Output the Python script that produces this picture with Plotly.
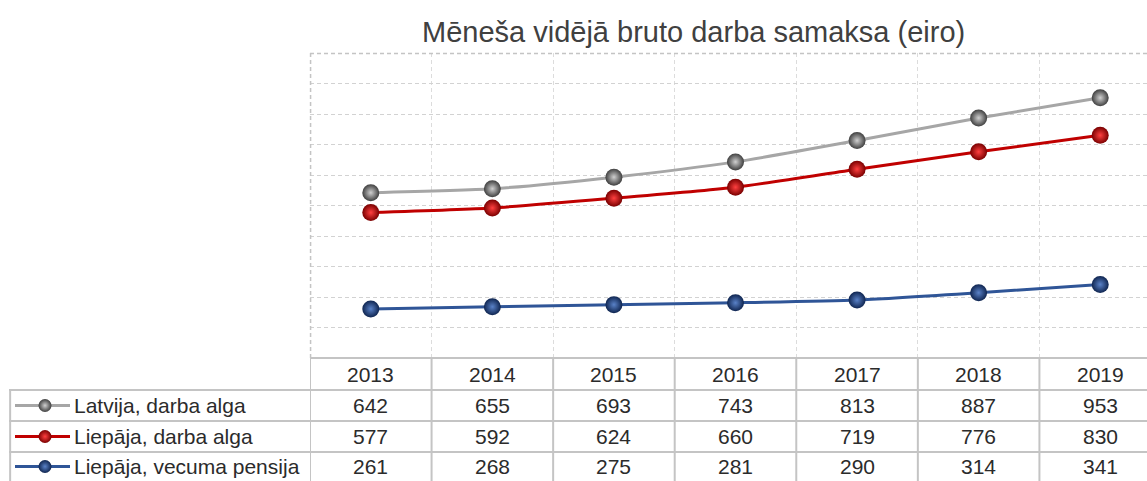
import plotly.graph_objects as go

years = ["2013", "2014", "2015", "2016", "2017", "2018", "2019"]
series_names = ["Latvija, darba alga", "Liepāja, darba alga", "Liepāja, vecuma pensija"]
latvija_alga = [642, 655, 693, 743, 813, 887, 953]
liepaja_alga = [577, 592, 624, 660, 719, 776, 830]
liepaja_pensija = [261, 268, 275, 281, 290, 314, 341]
title_text = "Mēneša vidējā bruto darba samaksa (eiro)"

series_values = [latvija_alga, liepaja_alga, liepaja_pensija]
line_colors = ["#a6a6a6", "#c00000", "#2f5597"]
edge_colors = ["#3f3f3f", "#7a0000", "#0f2550"]
center_colors = ["#d0d0d0", "#ff4040", "#5a82c8"]

W, H = 1147, 481
ML, MT = 9, 53
PW, PH = W - ML, H - MT  # paper size in px


def px_x(px):
    return (px - ML) / PW


def px_y(py):
    return (H - py) / PH


plot_left, plot_bottom = 310, 358
row_bounds = [358, 390, 421, 452, 481]

fig = go.Figure()

for name, vals, lc, ec, cc in zip(series_names, series_values, line_colors, edge_colors, center_colors):
    fig.add_trace(go.Scatter(
        x=years, y=vals, name=name, mode="lines+markers",
        line=dict(color=lc, width=3, shape="spline", smoothing=0.6),
        marker=dict(size=17, color=ec, line=dict(width=0),
                    gradient=dict(type="radial", color=cc)),
        showlegend=False, hoverinfo="x+y+name",
    ))

# legend symbols inside the table (second subplot)
for i, (lc, ec, cc) in enumerate(zip(line_colors, edge_colors, center_colors)):
    yc = (row_bounds[i + 1] + row_bounds[i + 2]) / 2
    fig.add_trace(go.Scatter(
        x=[15, 45, 70], y=[yc, yc, yc], mode="lines",
        line=dict(color=lc, width=3), xaxis="x2", yaxis="y2",
        showlegend=False, hoverinfo="skip"))
    fig.add_trace(go.Scatter(
        x=[45], y=[yc], mode="markers",
        marker=dict(size=13, color=ec, line=dict(width=0),
                    gradient=dict(type="radial", color=cc)),
        xaxis="x2", yaxis="y2", showlegend=False, hoverinfo="skip"))

col_w = 121.57
x_hi = -0.5 + (W - plot_left) / col_w

grid_c = "#d2d2d2"
gdash = "4px,3px"
fig.update_layout(
    width=W, height=H,
    margin=dict(l=ML, r=0, t=MT, b=0),
    paper_bgcolor="white", plot_bgcolor="white",
    font=dict(family="Liberation Sans, Arial, sans-serif", color="#404040"),
    xaxis=dict(domain=[px_x(plot_left), 1], type="category", range=[-0.5, x_hi],
               tickson="boundaries", showgrid=True, gridcolor="#dcdcdc", griddash=gdash,
               gridwidth=1, showticklabels=False, ticks="", zeroline=False, showline=False),
    yaxis=dict(domain=[px_y(plot_bottom), 1], range=[100, 1100], dtick=100, tick0=100,
               showgrid=True, gridcolor=grid_c, griddash=gdash, gridwidth=1,
               showticklabels=False, ticks="", zeroline=False, showline=False),
    xaxis2=dict(domain=[0, px_x(plot_left)], range=[ML, plot_left], visible=False,
                anchor="y2"),
    yaxis2=dict(domain=[0, px_y(plot_bottom)], range=[H, plot_bottom], visible=False,
                anchor="x2"),
)

tbl_c = "#c4c4c4"
shapes = []
# dashed outer border of the plot area (top and left)
shapes.append(dict(type="line", xref="paper", yref="paper", x0=px_x(plot_left), x1=1,
                   y0=0.999, y1=0.999, line=dict(color="#c4c4c4", width=1.5, dash=gdash)))
shapes.append(dict(type="line", xref="paper", yref="paper", x0=px_x(plot_left) + 0.0005,
                   x1=px_x(plot_left) + 0.0005, y0=px_y(plot_bottom), y1=1,
                   line=dict(color="#c4c4c4", width=1.5, dash=gdash)))
# horizontal table lines
shapes.append(dict(type="line", xref="paper", yref="paper", x0=px_x(plot_left), x1=1,
                   y0=px_y(row_bounds[0]), y1=px_y(row_bounds[0]), line=dict(color=tbl_c, width=2)))
for rb in row_bounds[1:4]:
    shapes.append(dict(type="line", xref="paper", yref="paper", x0=0, x1=1,
                       y0=px_y(rb), y1=px_y(rb), line=dict(color=tbl_c, width=2)))
# left border of row labels
shapes.append(dict(type="line", xref="paper", yref="paper", x0=0.001, x1=0.001,
                   y0=px_y(row_bounds[1]), y1=0, line=dict(color=tbl_c, width=2)))
# column boundaries
for k in range(len(years) + 1):
    shapes.append(dict(type="line", xref="x", yref="paper", x0=k - 0.5, x1=k - 0.5,
                       y0=px_y(row_bounds[0]), y1=0, line=dict(color=tbl_c, width=2)))
fig.update_layout(shapes=shapes)

ann = []
fs = 21
txt_c = "#2b2b2b"
hdr_y = px_y((row_bounds[0] + row_bounds[1]) / 2)
for k, yr in enumerate(years):
    ann.append(dict(x=k, y=hdr_y, xref="x", yref="paper", text=yr, showarrow=False,
                    font=dict(size=fs, color=txt_c), xanchor="center", yanchor="middle"))
for i, (name, vals) in enumerate(zip(series_names, series_values)):
    yc = px_y((row_bounds[i + 1] + row_bounds[i + 2]) / 2)
    ann.append(dict(x=px_x(72), y=yc, xref="paper", yref="paper", text=name, showarrow=False,
                    font=dict(size=fs, color=txt_c), xanchor="left", yanchor="middle"))
    for k, v in enumerate(vals):
        ann.append(dict(x=k, y=yc, xref="x", yref="paper", text=str(v), showarrow=False,
                        font=dict(size=fs, color=txt_c), xanchor="center", yanchor="middle"))
ann.append(dict(x=px_x(693), y=px_y(32), xref="paper", yref="paper", text=title_text,
                showarrow=False, font=dict(size=29, color="#404040"),
                xanchor="center", yanchor="middle"))
fig.update_layout(annotations=ann)

fig.write_html("out.html", config={"displayModeBar": False},
               post_script="document.body.style.margin='0';document.body.style.overflow='hidden';")
